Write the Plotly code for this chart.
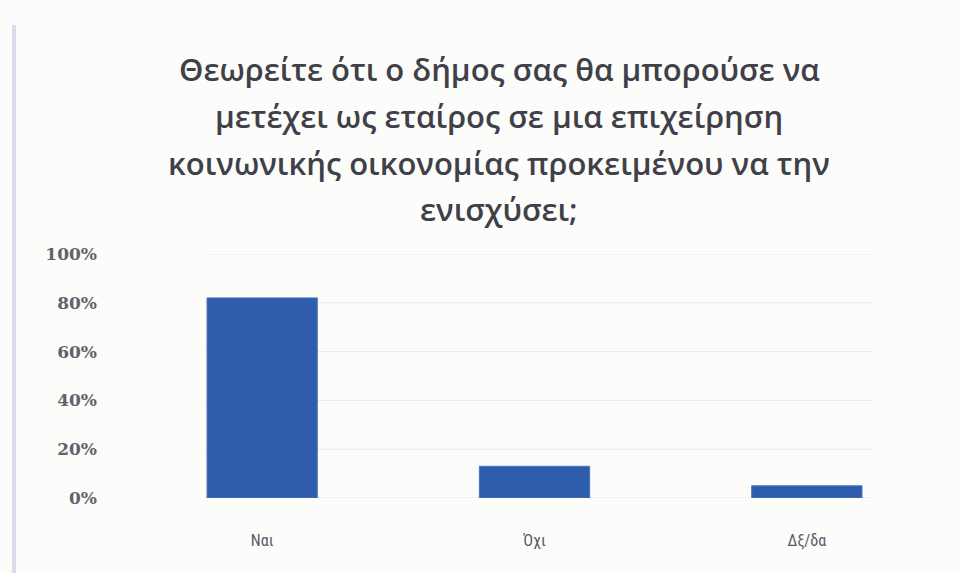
import plotly.graph_objects as go

categories = ["Ναι", "Όχι", "Δξ/δα"]
values = [0.82, 0.13, 0.05]
tick_vals = [0, 0.2, 0.4, 0.6, 0.8, 1.0]
tick_text = ["0%", "20%", "40%", "60%", "80%", "100%"]
title_lines = [
    "Θεωρείτε ότι ο δήμος σας θα μπορούσε να",
    "μετέχει ως εταίρος σε μια επιχείρηση",
    "κοινωνικής οικονομίας προκειμένου να την",
    "ενισχύσει;",
]

W, H = 960, 573
L, R = 126, 943
T, B = 254, 498

fig = go.Figure()
fig.add_trace(go.Bar(
    x=categories, y=values,
    marker=dict(color="#2F5DAE", line=dict(color="#4A74BE", width=1)),
    width=0.405,
))

shapes = []
gx0 = (205 - L) / (R - L)
gx1 = (873 - L) / (R - L)
for v in tick_vals:
    shapes.append(dict(type="line", xref="paper", yref="y", x0=gx0, x1=gx1,
                       y0=v, y1=v, line=dict(color="#E6E9F2", width=1), layer="below"))
# left border line of the frame
bx = (14 - L) / (R - L)
shapes.append(dict(type="line", xref="paper", yref="paper", x0=bx, x1=bx,
                   y0=-75 / (B - T), y1=(B - 25) / (B - T),
                   line=dict(color="#DCDDEC", width=4)))

annotations = []
centers = [69, 116, 163, 209]
for line, cy in zip(title_lines, centers):
    annotations.append(dict(
        text=line, xref="paper", yref="paper",
        x=(499 - L) / (R - L), y=(B - cy) / (B - T),
        xanchor="center", yanchor="middle", showarrow=False,
        font=dict(family="Open Sans", size=31, color="#404048", weight=600),
    ))

fig.update_layout(
    width=W, height=H,
    margin=dict(l=L, r=W - R, t=T, b=H - B, pad=0),
    paper_bgcolor="#FCFCFA", plot_bgcolor="rgba(0,0,0,0)",
    showlegend=False,
    shapes=shapes, annotations=annotations,
    xaxis=dict(showgrid=False, zeroline=False, showline=False, ticks="",
               tickfont=dict(family="Liberation Sans Narrow, Roboto Condensed, Roboto", size=16, color="#5A5A62"),
               ticklabelstandoff=31),
    yaxis=dict(range=[0, 1], tickvals=tick_vals, ticktext=tick_text,
               showgrid=False, zeroline=False, showline=False, ticks="",
               tickfont=dict(family="DejaVu Serif", size=17, color="#62626A", weight="bold"),
               ticklabelstandoff=28),
)

fig.write_html("out.html", config={"displayModeBar": False},
               post_script="document.body.style.margin='0';")
